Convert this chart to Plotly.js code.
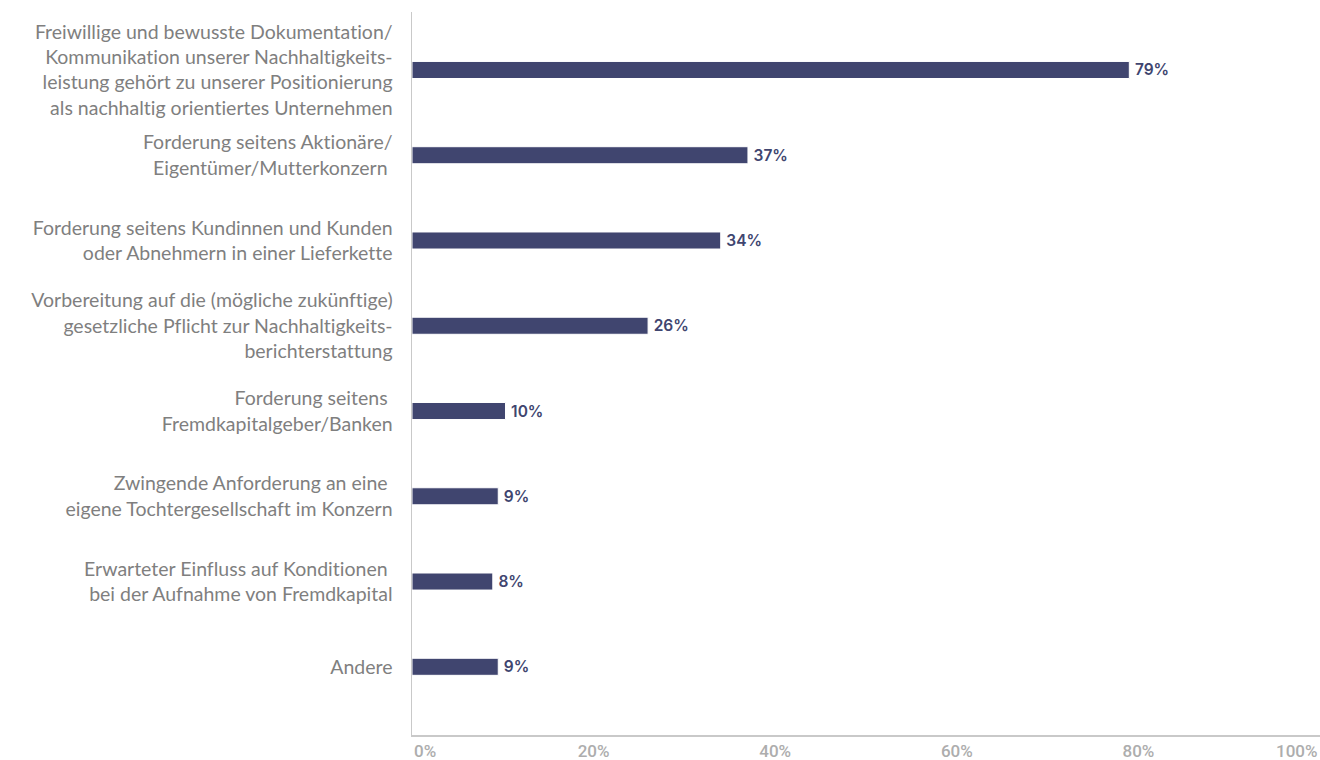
<!DOCTYPE html>
<html>
<head>
<meta charset="utf-8">
<script src="https://cdn.plot.ly/plotly-3.0.1.min.js"></script>
<style>html,body{margin:0;padding:0;background:#fff;}#chart{width:1320px;height:760px;}
#chart text{font-variant-ligatures:none;font-feature-settings:"liga" 0;}</style>
</head>
<body>
<div id="chart"></div>
<script>
const categories = [
  "Freiwillige und bewusste Dokumentation/<br>Kommunikation unserer Nachhaltigkeits-<br>leistung gehört zu unserer Positionierung<br>als nachhaltig orientiertes Unternehmen",
  "Forderung seitens Aktionäre/<br>Eigentümer/Mutterkonzern\u00a0",
  "Forderung seitens Kundinnen und Kunden<br>oder Abnehmern in einer Lieferkette",
  "Vorbereitung auf die (mögliche zukünftige)<br>gesetzliche Pflicht zur Nachhaltigkeits-<br>berichterstattung",
  "Forderung seitens\u00a0<br>Fremdkapitalgeber/Banken",
  "Zwingende Anforderung an eine\u00a0<br>eigene Tochtergesellschaft im Konzern",
  "Erwarteter Einfluss auf Konditionen\u00a0<br>bei der Aufnahme von Fremdkapital",
  "Andere"
];
const values = [79, 37, 34, 26, 10.3, 9.5, 8.9, 9.5];
const valueLabels = ["79%", "37%", "34%", "26%", "10%", "9%", "8%", "9%"];
const xTickValues = [0, 20, 40, 60, 80, 100];
const xTickLabels = ["0%", "20%", "40%", "60%", "80%", "100%"];

const barColor = "#40456f";
const axisColor = "#c9c9c9";
const tickFont = {family: "Roboto, sans-serif", size: 17, color: "#adadad", weight: 500};

const trace = {
  type: "bar",
  orientation: "h",
  y: categories,
  x: values,
  text: valueLabels,
  texttemplate: "\u2009%{text}",
  textposition: "outside",
  constraintext: "none",
  cliponaxis: false,
  textfont: {family: "Inter, sans-serif", size: 15.5, color: barColor, weight: 600},
  marker: {color: barColor, line: {color: "#ffffff", width: 1}},
  hoverinfo: "none"
};

// inner tick labels on the axis, edge labels as annotations anchored to the axis ends
const innerIdx = [1, 2, 3, 4];
const annotations = [
  {xref: "x", yref: "paper", x: xTickValues[0], y: 0, yshift: -16, xanchor: "left", yanchor: "middle",
   text: xTickLabels[0], showarrow: false, font: tickFont},
  {xref: "x", yref: "paper", x: xTickValues[5], y: 0, yshift: -16, xanchor: "right", yanchor: "middle",
   text: xTickLabels[5], showarrow: false, font: tickFont}
];

const layout = {
  width: 1320,
  height: 760,
  margin: {l: 412, r: 0, t: 12, b: 25},
  paper_bgcolor: "#ffffff",
  plot_bgcolor: "#ffffff",
  showlegend: false,
  bargap: 0.8,
  xaxis: {
    range: [0, 100],
    tickvals: innerIdx.map(i => xTickValues[i]),
    ticktext: innerIdx.map(i => xTickLabels[i]),
    showgrid: false,
    zeroline: false,
    showline: true,
    linecolor: axisColor,
    linewidth: 1.5,
    ticks: "",
    tickfont: tickFont,
    layer: "below traces",
    fixedrange: true
  },
  yaxis: {
    type: "category",
    range: [7.8, -0.68],
    showgrid: false,
    zeroline: false,
    showline: true,
    linecolor: axisColor,
    linewidth: 1.5,
    ticks: "outside",
    ticklen: 14,
    tickcolor: "rgba(0,0,0,0)",
    tickfont: {family: "Lato, sans-serif", size: 19.5, color: "#7f7f7f"},
    layer: "below traces",
    fixedrange: true
  },
  annotations: annotations
};

Plotly.newPlot("chart", [trace], layout, {displayModeBar: false, staticPlot: true});
</script>
</body>
</html>
